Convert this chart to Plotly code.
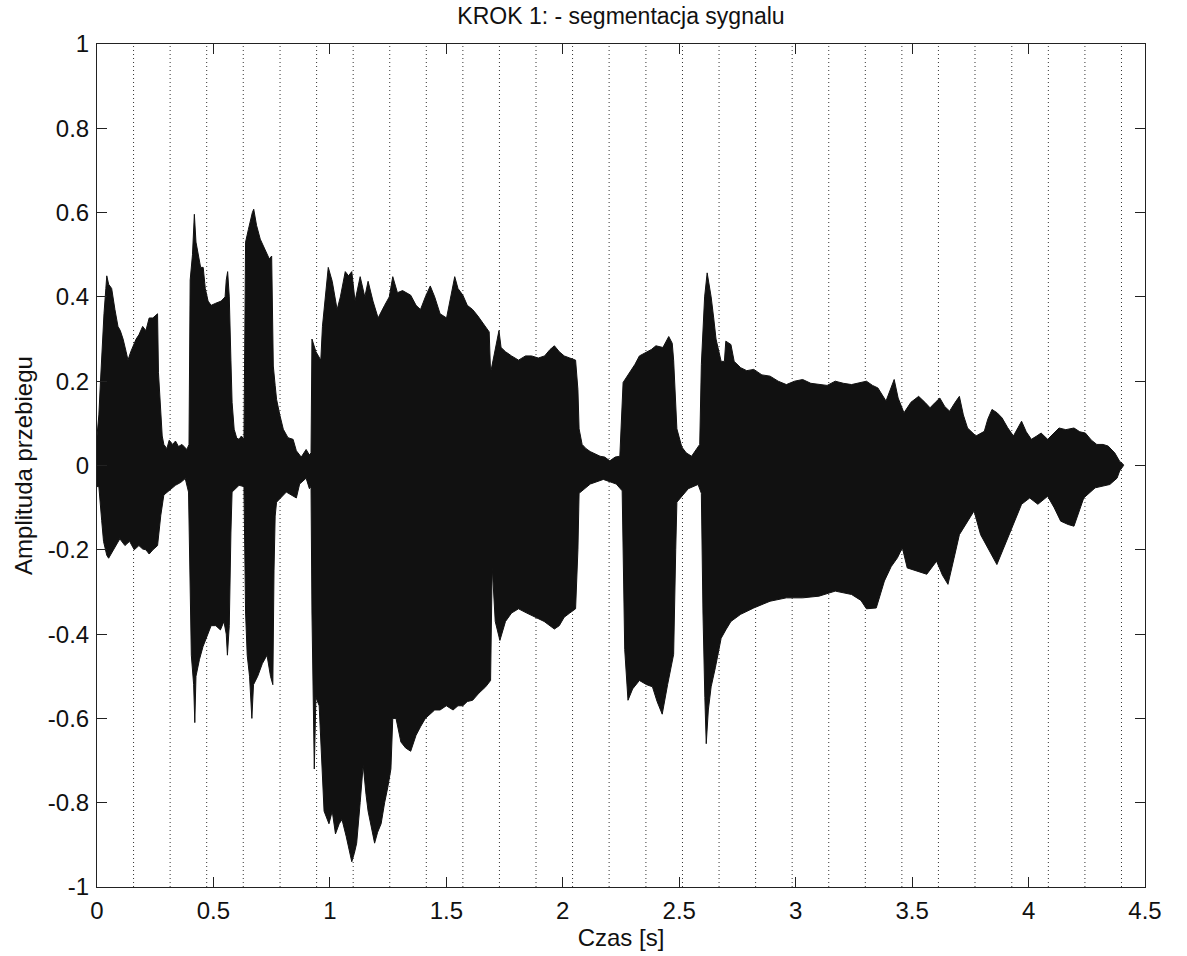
import plotly.graph_objects as go

# ---- data ----
# upper envelope of the signal: time [s], amplitude
upper_t = [0.0, 0.008, 0.015, 0.021, 0.03, 0.038, 0.042, 0.05, 0.063, 0.077, 0.09, 0.1, 0.112, 0.125, 0.133, 0.145,
           0.16, 0.168, 0.18, 0.196, 0.21, 0.224, 0.24, 0.26, 0.264, 0.27, 0.274, 0.28, 0.287, 0.3, 0.31, 0.325,
           0.337, 0.35, 0.365, 0.386, 0.395,
           0.40, 0.41, 0.418, 0.425, 0.435, 0.445, 0.456, 0.465, 0.477, 0.49, 0.51, 0.533, 0.55, 0.555, 0.561,
           0.568, 0.575, 0.58, 0.589, 0.60, 0.61, 0.62, 0.631,
           0.638, 0.65, 0.659, 0.667, 0.673, 0.685, 0.701, 0.715, 0.729, 0.74, 0.75, 0.757, 0.765, 0.771, 0.785,
           0.80, 0.82, 0.842, 0.856, 0.863, 0.877, 0.898, 0.912, 0.919,
           0.923, 0.94, 0.961, 0.968, 0.982, 0.993, 1.01, 1.031, 1.045, 1.066, 1.08, 1.094, 1.108, 1.13, 1.15,
           1.164, 1.185, 1.207, 1.235, 1.255, 1.27, 1.29, 1.312, 1.347, 1.37, 1.389, 1.41, 1.431, 1.45, 1.473,
           1.501, 1.52, 1.536, 1.55, 1.571, 1.59, 1.613, 1.635, 1.655, 1.684,
           1.69, 1.705, 1.726, 1.735, 1.754, 1.78, 1.81, 1.84, 1.866, 1.895, 1.922, 1.945, 1.964, 1.985, 2.006,
           2.03, 2.055, 2.065, 2.07, 2.083, 2.1, 2.118, 2.14, 2.16, 2.18, 2.202, 2.225, 2.245,
           2.259, 2.275, 2.287, 2.31, 2.329, 2.36, 2.38, 2.4, 2.43, 2.455, 2.47, 2.476, 2.485, 2.49, 2.511, 2.53,
           2.553, 2.575, 2.588,
           2.595, 2.602, 2.609, 2.62, 2.628, 2.637, 2.648, 2.658, 2.68, 2.694, 2.7, 2.715, 2.722, 2.736, 2.764,
           2.79, 2.82, 2.855, 2.89, 2.925, 2.96, 2.995, 3.03, 3.065, 3.1, 3.135, 3.17, 3.205, 3.24, 3.27, 3.304,
           3.33, 3.353, 3.388, 3.405, 3.423, 3.44, 3.465, 3.495, 3.528, 3.555, 3.577, 3.6, 3.619, 3.64, 3.661,
           3.685, 3.703, 3.72, 3.738, 3.774, 3.81, 3.825, 3.843, 3.865, 3.886, 3.91, 3.935, 3.955, 3.97, 3.99,
           4.012, 4.035, 4.054, 4.082, 4.105, 4.131, 4.16, 4.195, 4.22, 4.244, 4.27, 4.293, 4.32, 4.342, 4.37,
           4.391, 4.408]
upper_v = [0.07, 0.12, 0.2, 0.28, 0.36, 0.42, 0.45, 0.43, 0.42, 0.37, 0.33, 0.32, 0.30, 0.27, 0.25, 0.27,
           0.29, 0.30, 0.31, 0.33, 0.32, 0.35, 0.35, 0.36, 0.22, 0.15, 0.117, 0.07, 0.05, 0.04, 0.06, 0.05,
           0.058, 0.045, 0.05, 0.038, 0.05,
           0.44, 0.5, 0.596, 0.53, 0.50, 0.47, 0.47, 0.42, 0.39, 0.38, 0.385, 0.39, 0.40, 0.44, 0.46,
           0.40, 0.25, 0.15, 0.086, 0.065, 0.062, 0.07, 0.062,
           0.53, 0.56, 0.584, 0.60, 0.608, 0.57, 0.537, 0.52, 0.505, 0.49, 0.497, 0.236, 0.19, 0.157, 0.12,
           0.086, 0.066, 0.062, 0.035, 0.03, 0.02, 0.038, 0.025, 0.03,
           0.30, 0.27, 0.25, 0.33, 0.40, 0.47, 0.437, 0.37, 0.40, 0.46, 0.45, 0.46, 0.39, 0.448, 0.40,
           0.437, 0.39, 0.35, 0.38, 0.40, 0.448, 0.41, 0.415, 0.404, 0.38, 0.37, 0.40, 0.426, 0.40, 0.36,
           0.35, 0.40, 0.448, 0.42, 0.404, 0.38, 0.37, 0.355, 0.34, 0.317,
           0.22, 0.26, 0.32, 0.28, 0.27, 0.26, 0.25, 0.26, 0.26, 0.255, 0.26, 0.275, 0.284, 0.27, 0.26,
           0.255, 0.25, 0.18, 0.087, 0.05, 0.04, 0.033, 0.028, 0.022, 0.02, 0.011, 0.02, 0.022,
           0.197, 0.21, 0.22, 0.24, 0.26, 0.27, 0.275, 0.284, 0.28, 0.306, 0.29, 0.25, 0.15, 0.087, 0.044, 0.03,
           0.022, 0.04, 0.05,
           0.24, 0.33, 0.40, 0.457, 0.43, 0.40, 0.35, 0.30, 0.247, 0.247, 0.295, 0.29, 0.287, 0.247, 0.232,
           0.225, 0.228, 0.215, 0.212, 0.2, 0.192, 0.2, 0.204, 0.195, 0.192, 0.19, 0.2, 0.195, 0.192, 0.195, 0.20,
           0.19, 0.184, 0.153, 0.18, 0.204, 0.16, 0.125, 0.15, 0.164, 0.15, 0.137, 0.15, 0.16, 0.14, 0.129,
           0.15, 0.164, 0.12, 0.089, 0.07, 0.081, 0.11, 0.133, 0.125, 0.113, 0.09, 0.07, 0.09, 0.105, 0.08,
           0.062, 0.07, 0.077, 0.062, 0.075, 0.089, 0.085, 0.089, 0.08, 0.077, 0.06, 0.05, 0.05, 0.046, 0.03,
           0.01, 0.002]

# lower envelope of the signal: time [s], amplitude
lower_t = [0.0, 0.008, 0.014, 0.02, 0.028, 0.042, 0.05, 0.063, 0.08, 0.098, 0.12, 0.14, 0.16, 0.18, 0.196,
           0.21, 0.224, 0.24, 0.26, 0.268, 0.274, 0.287, 0.31, 0.337, 0.36, 0.379, 0.393,
           0.40, 0.405, 0.415, 0.42, 0.425, 0.44, 0.455, 0.47, 0.49, 0.51, 0.53, 0.545, 0.555, 0.56, 0.568,
           0.575, 0.58, 0.61, 0.631,
           0.638, 0.645, 0.655, 0.665, 0.672, 0.69, 0.71, 0.73, 0.745, 0.755, 0.76, 0.765, 0.771, 0.813, 0.856,
           0.87, 0.898, 0.912, 0.919,
           0.923, 0.933, 0.94, 0.954, 0.965, 0.975, 0.996, 1.01, 1.024, 1.04, 1.052, 1.07, 1.094, 1.105, 1.115,
           1.13, 1.143, 1.155, 1.164, 1.18, 1.192, 1.205, 1.22, 1.235, 1.248, 1.262, 1.27, 1.284, 1.305, 1.325,
           1.347, 1.37, 1.389, 1.41, 1.431, 1.45, 1.473, 1.5, 1.529, 1.55, 1.571, 1.59, 1.613, 1.64, 1.669, 1.69,
           1.697, 1.71, 1.73, 1.754, 1.78, 1.81, 1.845, 1.88, 1.92, 1.964, 1.985, 2.006, 2.03, 2.055, 2.065,
           2.07, 2.118, 2.174, 2.23, 2.255,
           2.259, 2.266, 2.28, 2.3, 2.329, 2.36, 2.385, 2.405, 2.427, 2.45, 2.476, 2.485, 2.49, 2.539, 2.581,
           2.595,
           2.602, 2.61, 2.616, 2.625, 2.637, 2.655, 2.68, 2.7, 2.722, 2.764, 2.82, 2.89, 2.96, 3.03, 3.1, 3.17,
           3.24, 3.28, 3.304, 3.346, 3.381, 3.41, 3.437, 3.458, 3.479, 3.52, 3.563, 3.605, 3.63, 3.654, 3.68,
           3.703, 3.738, 3.766, 3.794, 3.83, 3.864, 3.89, 3.921, 3.95, 3.97, 4.005, 4.04, 4.082, 4.11, 4.138,
           4.17, 4.195, 4.215, 4.237, 4.286, 4.349, 4.38, 4.391, 4.408]
lower_v = [-0.05, -0.05, -0.08, -0.13, -0.18, -0.213, -0.22, -0.206, -0.19, -0.174, -0.19, -0.18, -0.2, -0.19,
           -0.198, -0.2, -0.21, -0.2, -0.19, -0.15, -0.118, -0.07, -0.06, -0.047, -0.04, -0.031, -0.063,
           -0.30, -0.45, -0.52, -0.61, -0.50, -0.46, -0.43, -0.41, -0.38, -0.38, -0.39, -0.37, -0.40, -0.45,
           -0.38, -0.16, -0.063, -0.047, -0.05,
           -0.35, -0.45, -0.50, -0.60, -0.52, -0.50, -0.47, -0.45, -0.50, -0.52, -0.25, -0.12, -0.087, -0.063,
           -0.077, -0.044, -0.03, -0.055, -0.05,
           -0.35, -0.72, -0.55, -0.57, -0.70, -0.82, -0.85, -0.82, -0.874, -0.85, -0.84, -0.88, -0.94, -0.92,
           -0.896, -0.80, -0.71, -0.78, -0.82, -0.86, -0.896, -0.87, -0.85, -0.80, -0.765, -0.72, -0.60, -0.60,
           -0.656, -0.67, -0.678, -0.64, -0.62, -0.60, -0.59, -0.58, -0.58, -0.57, -0.58, -0.57, -0.57, -0.56,
           -0.557, -0.54, -0.525, -0.51,
           -0.24, -0.37, -0.415, -0.37, -0.35, -0.34, -0.35, -0.36, -0.37, -0.388, -0.38, -0.36, -0.35, -0.34,
           -0.2, -0.066, -0.044, -0.033, -0.044, -0.06,
           -0.10, -0.437, -0.557, -0.53, -0.51, -0.52, -0.525, -0.56, -0.59, -0.52, -0.448, -0.2, -0.087,
           -0.055, -0.045, -0.066,
           -0.35, -0.55, -0.66, -0.58, -0.525, -0.48, -0.41, -0.39, -0.37, -0.353, -0.338, -0.322, -0.314,
           -0.314, -0.31, -0.298, -0.306, -0.32, -0.34, -0.338, -0.274, -0.24, -0.219, -0.195, -0.243, -0.25,
           -0.258, -0.227, -0.26, -0.282, -0.22, -0.164, -0.132, -0.108, -0.164, -0.2, -0.235, -0.2, -0.156,
           -0.12, -0.092, -0.077, -0.092, -0.073, -0.1, -0.132, -0.14, -0.144, -0.11, -0.077, -0.053, -0.045,
           -0.03, -0.013, 0.0]

# segment boundaries [s] (dotted vertical lines)
segment_bounds = [0.157, 0.314, 0.471, 0.628, 0.786, 0.943, 1.100, 1.257, 1.414, 1.571, 1.728, 1.885, 2.042,
                  2.199, 2.357, 2.514, 2.671, 2.828, 2.985, 3.142, 3.299, 3.456, 3.613, 3.770, 3.928, 4.085,
                  4.242, 4.399]

x_tick_vals = [0, 0.5, 1, 1.5, 2, 2.5, 3, 3.5, 4, 4.5]
x_tick_text = ["0", "0.5", "1", "1.5", "2", "2.5", "3", "3.5", "4", "4.5"]
y_tick_vals = [-1, -0.8, -0.6, -0.4, -0.2, 0, 0.2, 0.4, 0.6, 0.8, 1]
y_tick_text = ["-1", "-0.8", "-0.6", "-0.4", "-0.2", "0", "0.2", "0.4", "0.6", "0.8", "1"]

# ---- figure ----
FONT = "Arial, Liberation Sans, sans-serif"
fig = go.Figure()

# dotted segment lines
lx, ly = [], []
for b in segment_bounds:
    lx += [b, b, None]
    ly += [-1, 1, None]
fig.add_trace(go.Scatter(x=lx, y=ly, mode="lines",
                         line=dict(color="#333333", width=1, dash="1px,3px"),
                         hoverinfo="skip", showlegend=False))

# waveform as filled envelope
poly_x = list(upper_t) + list(reversed(lower_t))
poly_y = list(upper_v) + list(reversed(lower_v))
fig.add_trace(go.Scatter(x=poly_x, y=poly_y, mode="lines", fill="toself",
                         fillcolor="#111111", line=dict(color="#111111", width=1),
                         hoverinfo="skip", showlegend=False))

axis_common = dict(showline=True, linecolor="#222222", linewidth=1, mirror="ticks",
                   ticks="inside", ticklen=10, tickcolor="#222222", tickwidth=1,
                   showgrid=False, zeroline=False,
                   tickfont=dict(family=FONT, size=24, color="#111111"))

fig.update_layout(
    width=1187, height=956,
    margin=dict(l=97, r=42, t=44, b=69),
    paper_bgcolor="white", plot_bgcolor="white",
    showlegend=False,
    title=dict(text="KROK 1: - segmentacja sygnalu", x=0.5, xref="paper",
               y=1 - 16 / 956, yref="container", xanchor="center", yanchor="middle",
               font=dict(family=FONT, size=23, color="#111111")),
    xaxis=dict(range=[0, 4.5], tickvals=x_tick_vals, ticktext=x_tick_text,
               ticklabelstandoff=2,
               title=dict(text="Czas [s]", font=dict(family=FONT, size=24, color="#111111"), standoff=2),
               **axis_common),
    yaxis=dict(range=[-1, 1], tickvals=y_tick_vals, ticktext=y_tick_text,
               ticklabelstandoff=2,
               title=dict(text="Amplituda przebiegu", font=dict(family=FONT, size=24, color="#111111"),
                          standoff=8),
               **axis_common),
)

fig.write_html("out.html")
